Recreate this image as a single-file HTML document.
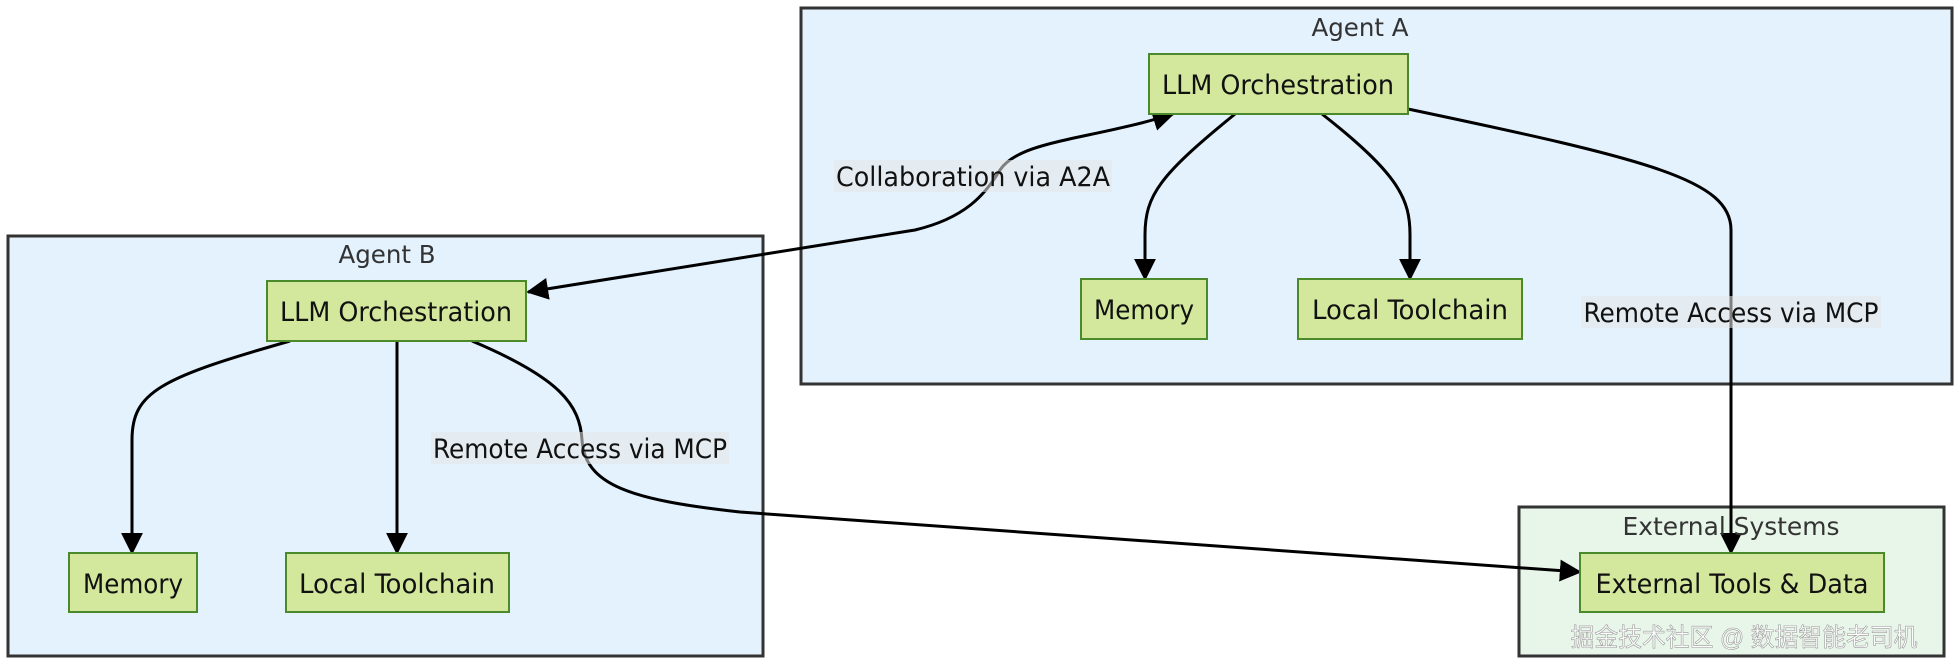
<!DOCTYPE html>
<html><head><meta charset="utf-8"><style>
html,body{margin:0;padding:0;background:#fff;}
svg{display:block;}
text{font-family:"DejaVu Sans Condensed","Liberation Sans",sans-serif;}
</style></head><body>
<svg width="1956" height="670" viewBox="0 0 1956 670" xmlns="http://www.w3.org/2000/svg">
<defs>
<marker id="a" viewBox="0 0 12 12" refX="11" refY="6" markerWidth="22" markerHeight="22" markerUnits="userSpaceOnUse" orient="auto-start-reverse"><path d="M0,0 L12,6 L0,12 z" fill="#000"/></marker>
</defs>
<rect x="801" y="8" width="1151" height="376" fill="#e3f2fd" stroke="#333" stroke-width="3"/>
<rect x="8" y="236" width="755" height="420" fill="#e3f2fd" stroke="#333" stroke-width="3"/>
<rect x="1519" y="507" width="425" height="149" fill="#e8f5e9" stroke="#333" stroke-width="3"/>
<text x="1360" y="36" font-size="25" fill="#333" text-anchor="middle" textLength="97" lengthAdjust="spacingAndGlyphs">Agent A</text>
<text x="387" y="263" font-size="25" fill="#333" text-anchor="middle" textLength="97" lengthAdjust="spacingAndGlyphs">Agent B</text>

<g fill="none" stroke="#000" stroke-width="3">
<path d="M528,292 L915,230 C965,218 985,195 1000,170 C1020,140 1090,140 1173,114" marker-start="url(#a)" marker-end="url(#a)"/>
<path d="M1235,114 C1160,175 1145,195 1145,235 L1145,279" marker-end="url(#a)"/>
<path d="M1322,114 C1400,175 1410,200 1410,235 L1410,279" marker-end="url(#a)"/>
<path d="M1408,109 C1650,160 1731,180 1731,230 L1731,553" marker-end="url(#a)"/>
<path d="M290,341 C160,378 132,392 132,440 L132,553" marker-end="url(#a)"/>
<path d="M397,341 L397,553" marker-end="url(#a)"/>
<path d="M472,341 C560,378 580,405 582,440 C585,485 630,500 740,512 L1580,572" marker-end="url(#a)"/>
</g>
<text x="1731" y="535" font-size="25" fill="#333" text-anchor="middle" textLength="217" lengthAdjust="spacingAndGlyphs">External Systems</text>

<g fill="#d3e89c" stroke="#4a8a2a" stroke-width="2">
<rect x="1149" y="54" width="259" height="60"/>
<rect x="1081" y="279" width="126" height="60"/>
<rect x="1298" y="279" width="224" height="60"/>
<rect x="267" y="281" width="259" height="60"/>
<rect x="69" y="553" width="128" height="59"/>
<rect x="286" y="553" width="223" height="59"/>
<rect x="1580" y="553" width="304" height="59"/>
</g>
<g font-size="27" fill="#111" text-anchor="middle">
<text x="1278" y="94" textLength="232" lengthAdjust="spacingAndGlyphs">LLM Orchestration</text>
<text x="1144" y="319" textLength="100" lengthAdjust="spacingAndGlyphs">Memory</text>
<text x="1410" y="319" textLength="196" lengthAdjust="spacingAndGlyphs">Local Toolchain</text>
<text x="396" y="321" textLength="232" lengthAdjust="spacingAndGlyphs">LLM Orchestration</text>
<text x="133" y="593" textLength="100" lengthAdjust="spacingAndGlyphs">Memory</text>
<text x="397" y="593" textLength="196" lengthAdjust="spacingAndGlyphs">Local Toolchain</text>
<text x="1732" y="593" textLength="273" lengthAdjust="spacingAndGlyphs">External Tools &amp; Data</text>
</g>
<g fill="rgba(232,232,232,0.55)">
<rect x="834" y="160" width="278" height="32"/>
<rect x="1581" y="296" width="300" height="32"/>
<rect x="431" y="432" width="298" height="32"/>
</g>
<g font-size="27" fill="#111" text-anchor="middle">
<text x="973" y="186" textLength="274" lengthAdjust="spacingAndGlyphs">Collaboration via A2A</text>
<text x="1731" y="322" textLength="295" lengthAdjust="spacingAndGlyphs">Remote Access via MCP</text>
<text x="580" y="458" textLength="294" lengthAdjust="spacingAndGlyphs">Remote Access via MCP</text>
</g>
<text x="1744" y="646" font-size="25" fill="#fff" stroke="#999" stroke-width="0.6" text-anchor="middle" textLength="347" lengthAdjust="spacingAndGlyphs" style="font-family:'Liberation Sans','Noto Sans CJK SC',sans-serif">掘金技术社区 @ 数据智能老司机</text>
</svg>
</body></html>
